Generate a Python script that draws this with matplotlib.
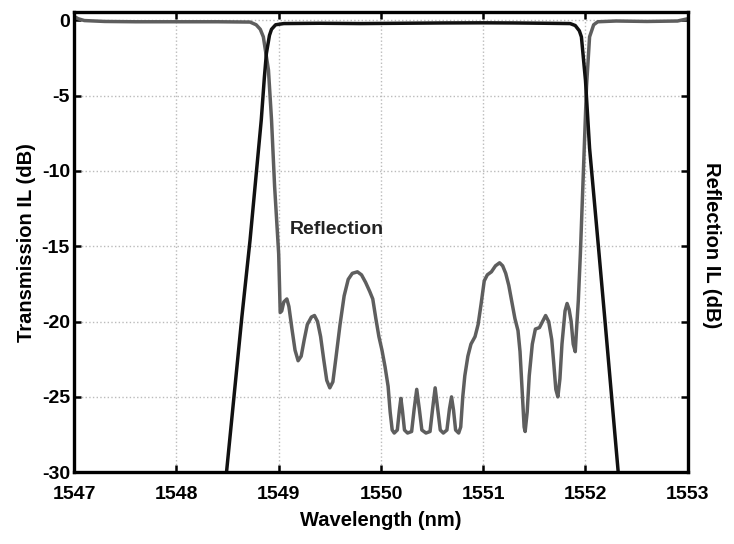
"""
Filter spectrum: transmission and reflection insertion loss vs wavelength
"""
import numpy as np
import matplotlib.pyplot as plt

# reflection (thick black) trace
refl_wl = [1548.40, 1548.49, 1548.64, 1548.72, 1548.83, 1548.86, 1548.88, 1548.91,
           1548.93, 1548.97, 1549.05, 1549.4, 1549.8, 1550.2, 1550.6, 1551.0,
           1551.3, 1551.6, 1551.85, 1551.90, 1551.94, 1551.96, 1552.00, 1552.04,
           1552.13, 1552.19, 1552.32, 1552.40]
refl_db = [-36.0, -30.0, -19.7, -14.6, -6.6, -3.8, -2.2, -1.0,
           -0.6, -0.3, -0.22, -0.2, -0.22, -0.2, -0.18, -0.17,
           -0.18, -0.2, -0.22, -0.35, -0.7, -1.1, -4.0, -8.5,
           -15.3, -19.9, -30.0, -36.0]

# transmission (grey) trace
trans_wl = [1547.00, 1547.04, 1547.10, 1547.3, 1547.6, 1548.0, 1548.4, 1548.72,
            1548.78, 1548.82, 1548.85, 1548.90, 1548.93, 1548.96, 1549.00, 1549.015,
            1549.03, 1549.05, 1549.08, 1549.10, 1549.13, 1549.16, 1549.19, 1549.22,
            1549.25, 1549.28, 1549.32, 1549.35, 1549.38, 1549.41, 1549.44, 1549.47,
            1549.50, 1549.53, 1549.56, 1549.60, 1549.64, 1549.68, 1549.72, 1549.77,
            1549.81, 1549.85, 1549.89, 1549.92, 1549.95, 1549.98, 1550.01, 1550.04,
            1550.07, 1550.09, 1550.11, 1550.13, 1550.16, 1550.18, 1550.195, 1550.21,
            1550.23, 1550.26, 1550.30, 1550.325, 1550.35, 1550.375, 1550.40, 1550.44,
            1550.48, 1550.505, 1550.53, 1550.555, 1550.58, 1550.61, 1550.645, 1550.67,
            1550.69, 1550.71, 1550.73, 1550.76, 1550.78, 1550.80, 1550.82, 1550.85,
            1550.88, 1550.92, 1550.95, 1550.98, 1551.01, 1551.04, 1551.08, 1551.12,
            1551.16, 1551.19, 1551.22, 1551.25, 1551.28, 1551.31, 1551.34, 1551.36,
            1551.38, 1551.40, 1551.41, 1551.43, 1551.45, 1551.48, 1551.51, 1551.55,
            1551.58, 1551.61, 1551.64, 1551.67, 1551.69, 1551.71, 1551.73, 1551.75,
            1551.77, 1551.80, 1551.82, 1551.84, 1551.86, 1551.88, 1551.90, 1551.91,
            1551.93, 1551.95, 1551.98, 1552.01, 1552.04, 1552.08, 1552.12, 1552.3,
            1552.6, 1552.9, 1553.00]
trans_db = [0.25, 0.1, -0.02, -0.08, -0.1, -0.1, -0.1, -0.12,
            -0.3, -0.6, -1.1, -3.3, -6.6, -11.0, -15.5, -19.4,
            -19.3, -18.7, -18.5, -19.0, -20.5, -21.9, -22.6, -22.3,
            -21.2, -20.2, -19.7, -19.6, -20.0, -21.0, -22.5, -23.9,
            -24.4, -24.0, -22.4, -20.2, -18.3, -17.2, -16.8, -16.7,
            -16.9, -17.4, -18.0, -18.5, -19.8, -21.0, -21.9, -23.0,
            -24.3, -26.0, -27.2, -27.4, -27.2, -25.9, -25.1, -25.9,
            -27.2, -27.4, -27.3, -25.8, -24.5, -25.8, -27.2, -27.4,
            -27.3, -25.8, -24.4, -25.8, -27.2, -27.4, -27.2, -25.8,
            -25.0, -25.9, -27.2, -27.4, -27.0, -25.0, -23.6, -22.3,
            -21.5, -21.0, -20.2, -18.8, -17.3, -16.9, -16.7, -16.3,
            -16.1, -16.3, -16.8, -17.6, -18.7, -19.8, -20.6, -22.0,
            -24.5, -27.0, -27.3, -26.0, -23.6, -21.5, -20.5, -20.4,
            -20.0, -19.6, -20.0, -21.2, -22.8, -24.5, -25.0, -23.8,
            -21.5, -19.3, -18.8, -19.2, -20.0, -21.5, -22.0, -20.8,
            -18.6, -15.5, -9.9, -4.4, -1.1, -0.3, -0.1, -0.05,
            -0.08, -0.05, 0.1]

xticks = [1547, 1548, 1549, 1550, 1551, 1552, 1553]
yticks = [0, -5, -10, -15, -20, -25, -30]

plt.rcParams['font.family'] = ['Liberation Sans', 'DejaVu Sans']
plt.rcParams['font.weight'] = 'bold'
plt.rcParams['axes.unicode_minus'] = False
plt.rc('font', size=14)

plt.close('all')
fig = plt.figure(figsize=(7.34, 5.44), dpi=100)
ax = fig.add_axes([0.101, 0.132, 0.836, 0.846])

ax.plot(trans_wl, trans_db, color='#5e5e5e', lw=2.5,
        solid_joinstyle='round', solid_capstyle='round')
ax.plot(refl_wl, refl_db, color='#111111', lw=2.5, solid_joinstyle='round')

ax.set_xlim(1547, 1553)
ax.set_ylim(-30, 0.55)
ax.set_xticks(xticks)
ax.set_yticks(yticks)
ax.grid(True, color='#bbbbbb', linestyle=':', linewidth=1)
ax.tick_params(direction='in', length=5, width=1.8, top=True, right=True)
ax.tick_params(axis='x', pad=10)
ax.tick_params(axis='y', pad=3)
for s in ax.spines.values():
    s.set_linewidth(2.4)

ax.set_xlabel('Wavelength (nm)', fontweight='bold', fontsize=14.5, labelpad=6)
ax.set_ylabel('Transmission IL (dB)', fontweight='bold', fontsize=14.5, labelpad=4)
fig.text(0.97, 0.55, 'Reflection IL (dB)', rotation=-90, ha='center', va='center',
         fontsize=14.5, fontweight='bold')
ax.text(1549.11, -13.9, 'Reflection', ha='left', va='center', fontsize=14,
        fontweight='bold', color='#222222')

fig.savefig('out.png', dpi=100)
